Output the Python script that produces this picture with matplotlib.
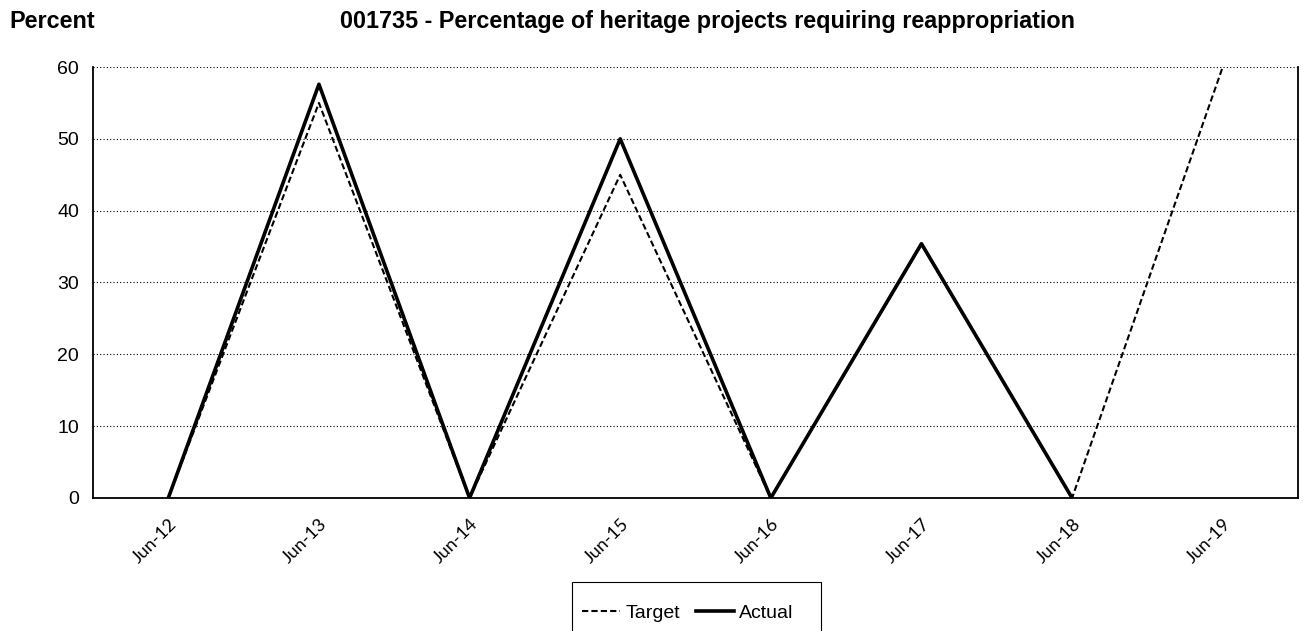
import matplotlib
matplotlib.use("Agg")
import matplotlib.pyplot as plt
from matplotlib.patches import Rectangle

plt.rcParams['font.family'] = ['Liberation Sans', 'DejaVu Sans']

# Chart data
months = ["Jun-12", "Jun-13", "Jun-14", "Jun-15", "Jun-16", "Jun-17", "Jun-18", "Jun-19"]
target = [0, 55, 0, 45, 0, 35.3, 0, 60]
actual = [0, 57.6, 0, 50, 0, 35.4, 0]

fig = plt.figure(figsize=(13.06, 6.31), dpi=100)
ax = fig.add_axes([0.0712, 0.2108, 0.9227, 0.683])

x_t = list(range(len(target)))
x_a = list(range(len(actual)))
ax.plot(x_t, target, color='black', linestyle=(0, (3, 1.5)), linewidth=1.5, label='Target')
ax.plot(x_a, actual, color='black', linestyle='-', linewidth=2.6, label='Actual')

ax.set_xlim(-0.5, len(months) - 0.5)
ax.set_ylim(0, 60)
ax.set_yticks(range(0, 61, 10))
ax.set_xticks(x_t)
ax.set_xticklabels(months, rotation=45, ha='right', rotation_mode='anchor',
                   fontsize=13, family=['Lato', 'DejaVu Sans'])
ax.tick_params(axis='y', labelsize=14, length=0, pad=10)
ax.tick_params(axis='x', length=0, pad=13)

ax.yaxis.grid(True, color='black', linestyle=(0, (1, 2)), linewidth=0.8)
ax.set_axisbelow(True)
ax.spines['top'].set_visible(False)
for s in ['left', 'bottom', 'right']:
    ax.spines[s].set_linewidth(1.3)

fig.text(0.007, 0.966, "Percent", fontsize=16.8, fontweight='bold', va='center', ha='left')
fig.text(0.542, 0.966, "001735 - Percentage of heritage projects requiring reappropriation",
         fontsize=16.8, fontweight='bold', va='center', ha='center')

# legend box drawn separately so it runs off the bottom edge like the original
fig.patches.append(Rectangle((572 / 1306, -0.05), (821 - 572) / 1306, 0.05 + (631 - 582) / 631,
                             transform=fig.transFigure, fill=False, edgecolor='black',
                             linewidth=0.8))
fig.legend(loc='center', bbox_to_anchor=(0.5265, 0.028), ncol=2, fontsize=14,
           frameon=False, handlelength=2.0, columnspacing=0.8, handletextpad=0.25,
           borderpad=0.3)

fig.savefig("out.png", dpi=100)
